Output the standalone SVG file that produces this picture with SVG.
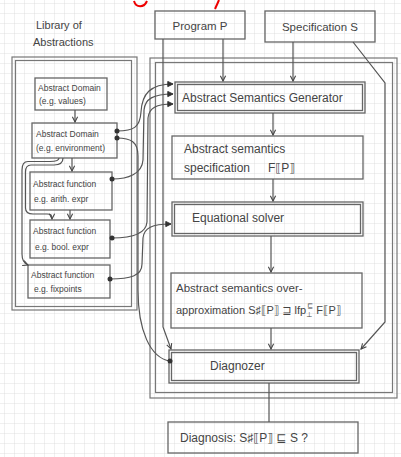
<svg xmlns="http://www.w3.org/2000/svg" width="401" height="457" viewBox="0 0 401 457">
<defs>
<pattern id="grid" width="10" height="10" patternUnits="userSpaceOnUse" x="4" y="3"><path d="M10,0 L0,0 0,10" fill="none" stroke="#d4d4d4" stroke-width="0.7"/></pattern>
<marker id="arr" viewBox="0 0 8 8" refX="7" refY="4" markerWidth="7" markerHeight="7" orient="auto" markerUnits="userSpaceOnUse"><path d="M1,1 L7,4 L1,7" fill="none" stroke="#444" stroke-width="1.2"/></marker>
<marker id="arrf" viewBox="0 0 8 8" refX="7" refY="4" markerWidth="7" markerHeight="7" orient="auto" markerUnits="userSpaceOnUse"><path d="M1,1 L7,4 L1,7 Z" fill="#333" stroke="#333" stroke-width="1"/></marker>
<style>
.box{fill:none;stroke:#666;stroke-width:1.3}
.frame{fill:none;stroke:#777;stroke-width:1.2}
.c{fill:none;stroke:#555;stroke-width:1.2}
.t{font-family:"Liberation Sans","DejaVu Sans",sans-serif;fill:#444}
.s{font-size:8.5px}
.m{font-size:12px}
.dot{fill:#333}
</style>
</defs>
<rect width="401" height="457" fill="#fff"/>
<rect width="401" height="457" fill="url(#grid)"/>

<g id="title-fragment">
<path d="M134,1 C136,8 144,8 147,1" fill="none" stroke="#e00" stroke-width="2"/>
<path d="M219,0 L215,9" fill="none" stroke="#e00" stroke-width="2"/>
</g>

<g id="library">
<text class="t" x="36" y="29" font-size="11">Library of</text>
<text class="t" x="33" y="46" font-size="11">Abstractions</text>
<rect class="frame" x="12" y="57" width="125" height="253"/>
<rect class="frame" x="15.5" y="60.5" width="116" height="246"/>
</g>

<g id="lib-domain-values">
<rect class="box" x="35" y="78" width="72" height="32"/>
<text class="t s" x="38" y="91">Abstract Domain</text>
<text class="t s" x="39" y="104">(e.g. values)</text>
</g>
<g id="lib-domain-env">
<rect class="box" x="32" y="123" width="85" height="35"/>
<text class="t s" x="36" y="137">Abstract Domain</text>
<text class="t s" x="36" y="151">(e.g. environment)</text>
</g>
<g id="lib-func-arith">
<rect class="box" x="30" y="172" width="82" height="38"/>
<text class="t s" x="33" y="187">Abstract function</text>
<text class="t s" x="34" y="202">e.g. arith. expr</text>
</g>
<g id="lib-func-bool">
<rect class="box" x="30" y="220" width="80" height="38"/>
<text class="t s" x="33" y="234">Abstract function</text>
<text class="t s" x="35" y="250">e.g. bool. expr</text>
</g>
<g id="lib-func-fix">
<rect class="box" x="28" y="265" width="82" height="33"/>
<text class="t s" x="31" y="278">Abstract function</text>
<text class="t s" x="34" y="292">e.g. fixpoints</text>
</g>

<g id="program">
<rect class="box" x="155" y="11" width="90" height="28"/>
<text class="t" x="200" y="30" font-size="11.5" text-anchor="middle">Program P</text>
</g>
<g id="specification">
<rect class="box" x="265" y="11" width="110" height="31"/>
<text class="t" x="320" y="31" font-size="11.5" text-anchor="middle">Specification S</text>
</g>

<g id="analyzer-frame">
<rect class="frame" x="150" y="58" width="247" height="340"/>
<rect class="frame" x="155.5" y="62.5" width="237" height="330"/>
</g>

<g id="generator">
<rect class="box" x="175" y="82" width="190" height="31"/>
<rect class="box" x="177.5" y="84.5" width="185" height="26" stroke-width="0.8"/>
<text class="t m" x="182" y="102">Abstract Semantics Generator</text>
</g>
<g id="semantics-spec">
<rect class="box" x="172" y="136" width="191" height="43"/>
<text class="t m" x="184" y="153">Abstract semantics</text>
<text class="t m" x="184" y="172">specification</text>
<text class="t m" x="268" y="172">F⟦P⟧</text>
</g>
<g id="solver">
<rect class="box" x="172" y="202" width="191" height="34"/>
<rect class="box" x="174.5" y="204.5" width="186" height="29" stroke-width="0.8"/>
<text class="t m" x="192" y="222">Equational solver</text>
</g>
<g id="over-approx">
<rect class="box" x="171" y="273" width="191" height="55"/>
<text class="t" x="176" y="292" font-size="11.5">Abstract semantics over-</text>
<text class="t" x="176" y="314" font-size="11">approximation  S♯⟦P⟧ ⊒ lfp<tspan font-size="7" dy="3">⊥</tspan><tspan font-size="7" dx="-5" dy="-9">⊑</tspan><tspan dy="6"> F⟦P⟧</tspan></text>
</g>
<g id="diagnozer">
<rect class="box" x="169" y="350" width="190" height="33"/>
<rect class="box" x="171.5" y="352.5" width="185" height="28" stroke-width="0.8"/>
<text class="t m" x="210" y="370">Diagnozer</text>
</g>
<g id="diagnosis">
<rect class="box" x="168" y="422" width="190" height="31"/>
<text class="t m" x="180" y="442">Diagnosis:  S♯⟦P⟧ ⊑ S ?</text>
</g>

<g id="connectors">
<!-- main column -->
<path class="c" d="M223,39 L223,81" marker-end="url(#arr)"/>
<path class="c" d="M293,42 L293,81" marker-end="url(#arr)"/>
<path class="c" d="M273,113 L273,135" marker-end="url(#arr)"/>
<path class="c" d="M273,179 L273,201" marker-end="url(#arr)"/>
<path class="c" d="M271,236 L271,272" marker-end="url(#arr)"/>
<path class="c" d="M271,328 L271,349" marker-end="url(#arr)"/>
<path class="c" d="M269,383 L269,422"/>
<!-- P and S down to diagnozer -->
<path class="c" d="M163,39 L163,327 L171,349" marker-end="url(#arr)"/>
<path class="c" d="M353,42 L385,83 L385,322 L361,349" marker-end="url(#arr)"/>
<!-- library internal -->
<path class="c" d="M75,110 L75,122" marker-end="url(#arr)"/>
<path class="c" d="M72,158 L72,171" marker-end="url(#arr)"/>
<path class="c" d="M70,210 L70,219" marker-end="url(#arr)"/>
<path class="c" d="M63,158 C63,163 60,165 54,165 L31,165 C27,165 25.5,167 25.5,172 L25.5,208 C25.5,212 28,214 33,214 L47,214 C51,214 52,215 52,219" marker-end="url(#arr)"/>
<path class="c" d="M59,158 C59,160 56,161.5 50,161.5 L28,161.5 C24,161.5 22,164 22,170 L22,254 C22,259 23,263 28,265" marker-end="url(#arr)"/>
<!-- library to analyzer -->
<path class="c" d="M117,131 C134,131 140,127 141,112 C142,94 150,84 173,84" marker-end="url(#arrf)"/>
<path class="c" d="M112,179 C128,179 142,174 143,160 L144,110 C145,99 153,94 173,94" marker-end="url(#arrf)"/>
<path class="c" d="M112,238 C130,238 146,234 147,222 L148,118 C149,108 156,104 173,104" marker-end="url(#arrf)"/>
<path class="c" d="M110,279 C130,279 142,276 142,264 L143,238 C144,228 152,224 171,224" marker-end="url(#arrf)"/>
<path class="c" d="M117,138 C131,138 138,142 138,156 L138,290 C138,330 150,358 170,361"/>
<circle class="dot" cx="117" cy="131" r="2.5"/>
<circle class="dot" cx="117" cy="138" r="2.5"/>
<circle class="dot" cx="112" cy="179" r="2.5"/>
<circle class="dot" cx="112" cy="238" r="2.5"/>
<circle class="dot" cx="110" cy="279" r="2.5"/>
<circle class="dot" cx="170" cy="361" r="2.5"/>
</g>
</svg>
